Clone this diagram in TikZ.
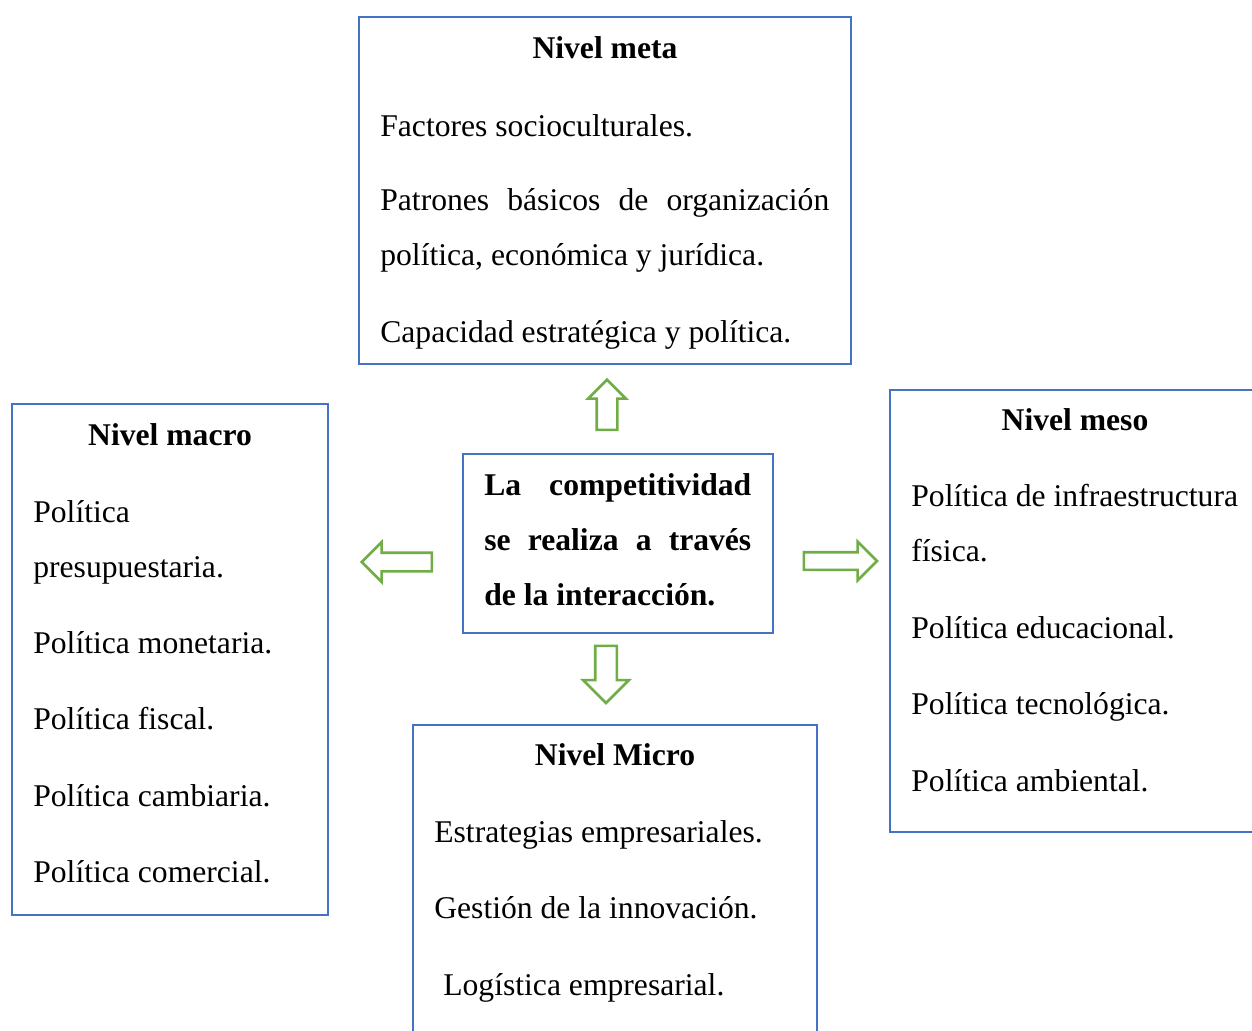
\documentclass[tikz,border=0pt]{standalone}
\usepackage{fontspec}
\setmainfont{Liberation Serif}
\usetikzlibrary{shapes.arrows}
\definecolor{boxblue}{HTML}{4472C4}
\definecolor{arrowgreen}{HTML}{70AD47}

\begin{document}
\begin{tikzpicture}[x=0.02cm,y=-0.02cm,
  levelbox/.style={draw=boxblue,line width=1.3pt,inner sep=0pt},
  bigarrow/.style={single arrow,draw=arrowgreen,line width=1.5pt,fill=white,inner xsep=0pt},
  txt/.style={font=\fontsize{18}{22}\selectfont,inner sep=0pt,anchor=base west},
  head/.style={font=\fontsize{18}{22}\selectfont\bfseries,inner sep=0pt,anchor=base}]
\useasboundingbox (0,0) rectangle (1252,1031);
\clip (0,0) rectangle (1252,1031);

% boxes
\node[levelbox,minimum width=9.84cm,minimum height=6.94cm] (meta) at (605,190.5) {};
\node[levelbox,minimum width=6.32cm,minimum height=10.22cm] (macro) at (170,659.5) {};
\node[levelbox,minimum width=6.2cm,minimum height=3.58cm] (core) at (618,543.5) {};
\node[levelbox,minimum width=7.6cm,minimum height=8.84cm] (meso) at (1080,611) {};
\node[levelbox,minimum width=8.08cm,minimum height=6.3cm] (micro) at (615,882.5) {};

% arrows
\node[bigarrow,rotate=90,minimum height=1.0cm,inner ysep=0.18cm,single arrow head extend=0.17cm] (toMeta) at (607,410) {};
\node[bigarrow,rotate=180,minimum height=1.4cm,inner ysep=0.16cm,single arrow head extend=0.21cm] (toMacro) at (401.5,562) {};
\node[bigarrow,minimum height=1.46cm,inner ysep=0.15cm,single arrow head extend=0.21cm] (toMeso) at (836,561) {};
\node[bigarrow,rotate=-90,minimum height=1.14cm,inner ysep=0.19cm,single arrow head extend=0.24cm] (toMicro) at (606,669) {};

% Nivel meta
\node[head] (metaTitle) at (605,58) {Nivel meta};
\begin{scope}[every node/.style={txt}]
\node (meta1) at (380,136) {Factores socioculturales.};
\node (meta2) at (380,210) {\makebox[8.98cm][s]{Patrones básicos de organización}};
\node (meta3) at (380,265) {política, económica y jurídica.};
\node (meta4) at (380,342) {Capacidad estratégica y política.};
\end{scope}

% Nivel macro
\node[head] (macroTitle) at (170,445) {Nivel macro};
\begin{scope}[every node/.style={txt}]
\node (macro1) at (33,522) {Política};
\node (macro2) at (33,577) {presupuestaria.};
\node (macro3) at (33,653) {Política monetaria.};
\node (macro4) at (33,729) {Política fiscal.};
\node (macro5) at (33,806) {Política cambiaria.};
\node (macro6) at (33,882) {Política comercial.};
\end{scope}

% centro
\begin{scope}[every node/.style={txt,font=\fontsize{18}{22}\selectfont\bfseries}]
\node (core1) at (484,495) {\makebox[5.34cm][s]{La competitividad}};
\node (core2) at (484,550) {\makebox[5.34cm][s]{se realiza a través}};
\node (core3) at (484,605) {de la interacción.};
\end{scope}

% Nivel meso
\node[head] (mesoTitle) at (1075,430) {Nivel meso};
\begin{scope}[every node/.style={txt}]
\node (meso1) at (911,506) {Política de infraestructura};
\node (meso2) at (911,561) {física.};
\node (meso3) at (911,638) {Política educacional.};
\node (meso4) at (911,714) {Política tecnológica.};
\node (meso5) at (911,791) {Política ambiental.};
\end{scope}

% Nivel Micro
\node[head] (microTitle) at (615,765) {Nivel Micro};
\begin{scope}[every node/.style={txt}]
\node (micro1) at (434,842) {Estrategias empresariales.};
\node (micro2) at (434,918) {Gestión de la innovación.};
\node (micro3) at (443,995) {Logística empresarial.};
\end{scope}
\end{tikzpicture}
\end{document}
